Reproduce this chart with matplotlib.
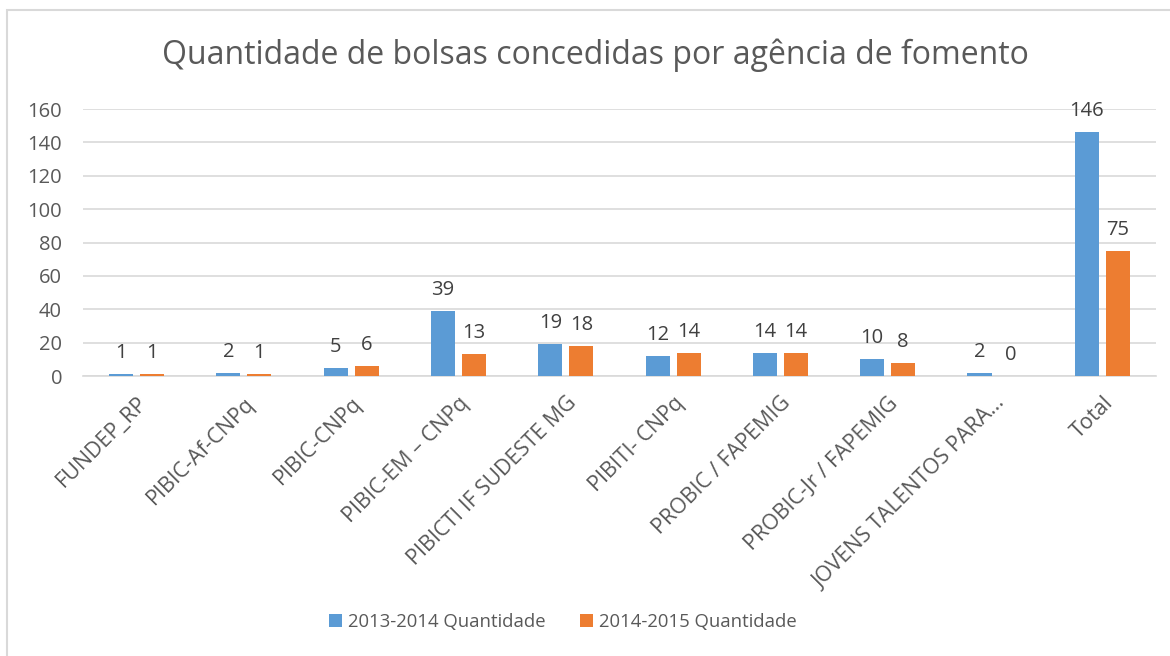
import numpy as np
import matplotlib.pyplot as plt
from matplotlib.patches import Rectangle

# données
categorias = ["FUNDEP_RP", "PIBIC-Af-CNPq", "PIBIC-CNPq", "PIBIC-EM – CNPq",
              "PIBICTI IF SUDESTE MG", "PIBITI- CNPq", "PROBIC / FAPEMIG",
              "PROBIC-Jr / FAPEMIG", "JOVENS TALENTOS PARA…", "Total"]
q_2013_2014 = [1, 2, 5, 39, 19, 12, 14, 10, 2, 146]
q_2014_2015 = [1, 1, 6, 13, 18, 14, 14, 8, 0, 75]
series = ["2013-2014 Quantidade", "2014-2015 Quantidade"]

azul = "#5B9BD5"
laranja = "#ED7D31"
cinza_txt = "#595959"

plt.rcParams['font.family'] = ['Open Sans', 'DejaVu Sans']

fig = plt.figure(figsize=(11.7, 6.56), dpi=100)
ax = fig.add_axes([0.0709, 0.4268, 0.9171, 0.4070])

x = np.arange(len(categorias))
w = 0.224
dx = 0.1445
b1 = ax.bar(x - dx, q_2013_2014, w, color=azul, label=series[0], zorder=3)
b2 = ax.bar(x + dx, q_2014_2015, w, color=laranja, label=series[1], zorder=3)

# rótulos de dados
for bars, vals in ((b1, q_2013_2014), (b2, q_2014_2015)):
    for b, v in zip(bars, vals):
        ax.annotate(str(v), (b.get_x() + b.get_width() / 2, v),
                    xytext=(0, 8), textcoords="offset points",
                    ha="center", va="bottom", fontsize=14.5, color="#404040")

ax.set_xlim(-0.5, len(categorias) - 0.5)
ax.set_ylim(0, 160)
ax.set_yticks(np.arange(0, 161, 20))
ax.grid(axis="y", color="#D9D9D9", linewidth=1.2, zorder=0)
for s in ["top", "right", "left"]:
    ax.spines[s].set_visible(False)
ax.spines["bottom"].set_color("#D9D9D9")
ax.spines["bottom"].set_linewidth(1.2)
ax.tick_params(axis="both", length=0, colors=cinza_txt)
ax.tick_params(axis="y", pad=15, labelsize=14.5)
ax.set_xticks(x)
ax.set_xticklabels(categorias, rotation=45, ha="right", va="top",
                   rotation_mode="anchor", fontsize=15.5)
ax.tick_params(axis="x", pad=12)

fig.text(0.509, 0.916, "Quantidade de bolsas concedidas por agência de fomento",
         ha="center", va="center", fontsize=23, color=cinza_txt)

fig.legend(handles=[b1, b2], labels=series, loc="center", ncol=2,
           bbox_to_anchor=(0.481, 0.052), frameon=False, fontsize=13.3,
           handlelength=0.7, handleheight=0.7, handletextpad=0.3,
           columnspacing=1.9, labelcolor=cinza_txt)

fig.patches.append(Rectangle((7 / 1170, -0.05), 1.1, 1 - 10 / 656 + 0.05,
                             transform=fig.transFigure, fill=False,
                             edgecolor="#D9D9D9", linewidth=1.5))

fig.savefig("out.png", dpi=100)
